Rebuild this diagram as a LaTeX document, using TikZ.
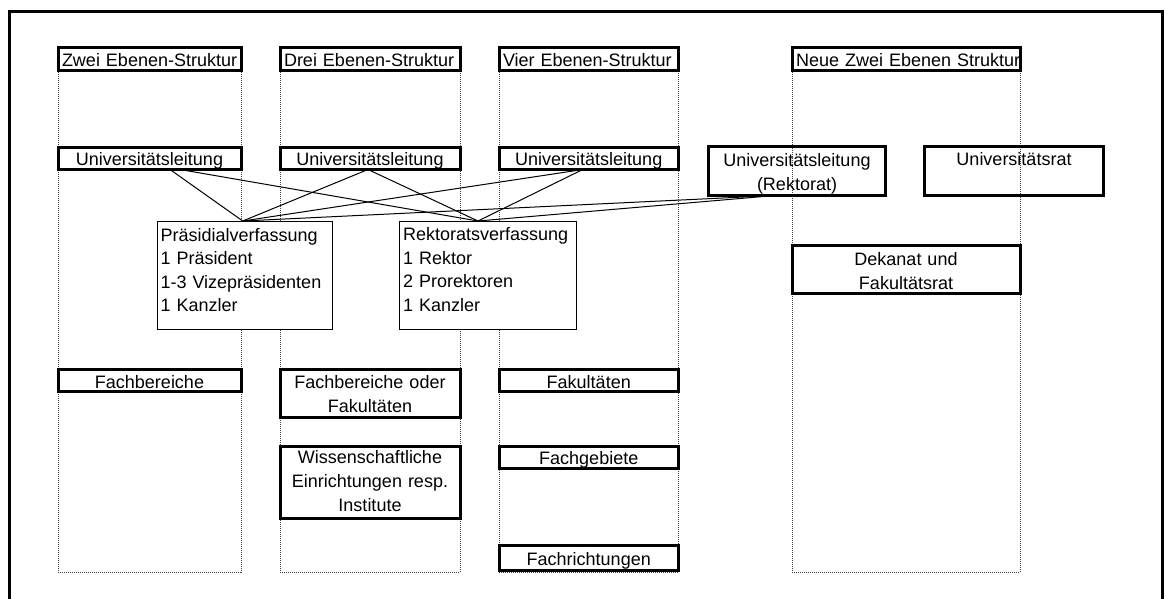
\documentclass[tikz,border=0pt]{standalone}
\usepackage{fontspec}
\setmainfont{Liberation Sans}
\newcommand\boxfont{\fontsize{18pt}{24pt}\selectfont}
\newcommand\listfont{\fontsize{18pt}{23.6pt}\selectfont}
\begin{document}
\begin{tikzpicture}[x=1pt, y=-1pt,
  lbl/.style={draw, outer sep=0pt, inner ysep=0pt, inner xsep=4pt,
              anchor=north west, font=\boxfont},
  heavy/.style={lbl, line width=3pt},
  light/.style={lbl, line width=1pt, fill=white, align=left, font=\listfont},
  col/.style={draw=black!75, line width=1pt, dash pattern=on 1pt off 1pt},
  link/.style={line width=1pt}]
\useasboundingbox (0,0) rectangle (1164,598);

% outer frame
\draw[line width=3pt] (9.5,11) rectangle (1162.5,615);

% dotted column outlines
\draw[col] (58,60) -- (58,572) -- (241,572) -- (241,60);
\draw[col] (280,60) -- (280,572) -- (460,572) -- (460,60);
\draw[col] (499,60) -- (499,572) -- (678.5,572) -- (678.5,60);
\draw[col] (792,60) -- (792,572) -- (1020,572) -- (1020,60);

% column headings
\node[heavy, align=left, text width=175pt, text height=19.2pt, text depth=3.8pt] (t1) at (58,47.5) {\mbox{Zwei Ebenen-Struktur}};
\node[heavy, align=left, text width=172pt, text height=19.2pt, text depth=3.8pt] (t2) at (280,47.5) {\mbox{Drei Ebenen-Struktur}};
\node[heavy, align=left, text width=171.5pt, text height=19.2pt, text depth=3.8pt] (t3) at (499,47.5) {\mbox{Vier Ebenen-Struktur}};
\node[heavy, align=left, text width=220pt, text height=19.2pt, text depth=3.8pt] (t4) at (792,47.5) {\mbox{Neue Zwei Ebenen Struktur}};

% university management
\node[heavy, align=center, text width=175pt, text height=18.2pt, text depth=3.8pt] (u1) at (58,147.5) {Universitätsleitung};
\node[heavy, align=center, text width=172pt, text height=18.2pt, text depth=3.8pt] (u2) at (280,147.5) {Universitätsleitung};
\node[heavy, align=center, text width=171.5pt, text height=18.2pt, text depth=3.8pt] (u3) at (499,147.5) {Universitätsleitung};
\node[heavy, align=center, text width=169pt, text height=19.5pt, text depth=29.5pt] (rek) at (708.5,146.5) {Universitätsleitung\\(Rektorat)};
\node[heavy, align=center, text width=171pt, text height=18.5pt, text depth=30pt] (urat) at (924.5,146.5) {Universitätsrat};

% constitutions
\node[light, inner xsep=3pt, text width=168.5pt, text height=20pt, text depth=88pt] (praes) at (157.5,221)
  {Präsidialverfassung\\1 Präsident\\1-3 Vizepräsidenten\\1 Kanzler};
\node[light, text width=169pt, text height=19.7pt, text depth=88.3pt] (rverf) at (399,221)
  {Rektoratsverfassung\\1 Rektor\\2 Prorektoren\\1 Kanzler};

% lower levels
\node[heavy, align=center, text width=220pt, text height=19.5pt, text depth=28.5pt] (dek) at (792,245.5) {Dekanat und\\Fakultätsrat};
\node[heavy, align=center, text width=175pt, text height=18.8pt, text depth=3.2pt] (fb1) at (58,369.5) {Fachbereiche};
\node[heavy, align=center, text width=172pt, text height=18.5pt, text depth=29.5pt] (fb2) at (280,369.5) {Fachbereiche oder\\Fakultäten};
\node[heavy, align=center, text width=172pt, text height=16.8pt, text depth=55.2pt] (wiss) at (280,446.5) {Wissenschaftliche\\Einrichtungen resp.\\Institute};
\node[heavy, align=center, text width=171.5pt, text height=18.5pt, text depth=3.5pt] (fak) at (499,369.5) {Fakultäten};
\node[heavy, align=center, text width=171.5pt, text height=17.5pt, text depth=4.5pt] (fgeb) at (499,446.5) {Fachgebiete};
\node[heavy, align=center, text width=171.5pt, text height=19.5pt, text depth=5.5pt] (fri) at (499,545.5) {Fachrichtungen};

% links from the management boxes to both constitutions
\draw[link] ([xshift=20.5pt]u1.south) -- ([xshift=-2pt]praes.north);
\draw[link] ([xshift=30.5pt]u1.south) -- ([xshift=-9.5pt]rverf.north);
\draw[link] ([xshift=-2pt]u2.south) -- ([xshift=-2pt]praes.north);
\draw[link] ([xshift=-2pt]u2.south) -- ([xshift=-9.5pt]rverf.north);
\draw[link] ([xshift=-6pt]u3.south) -- ([xshift=-2pt]praes.north);
\draw[link] ([xshift=-6pt]u3.south) -- ([xshift=-9.5pt]rverf.north);
\draw[link] ([xshift=-22pt]rek.south) -- ([xshift=-2pt]praes.north);
\draw[link] ([xshift=-22pt]rek.south) -- ([xshift=-9.5pt]rverf.north);
\end{tikzpicture}
\end{document}
